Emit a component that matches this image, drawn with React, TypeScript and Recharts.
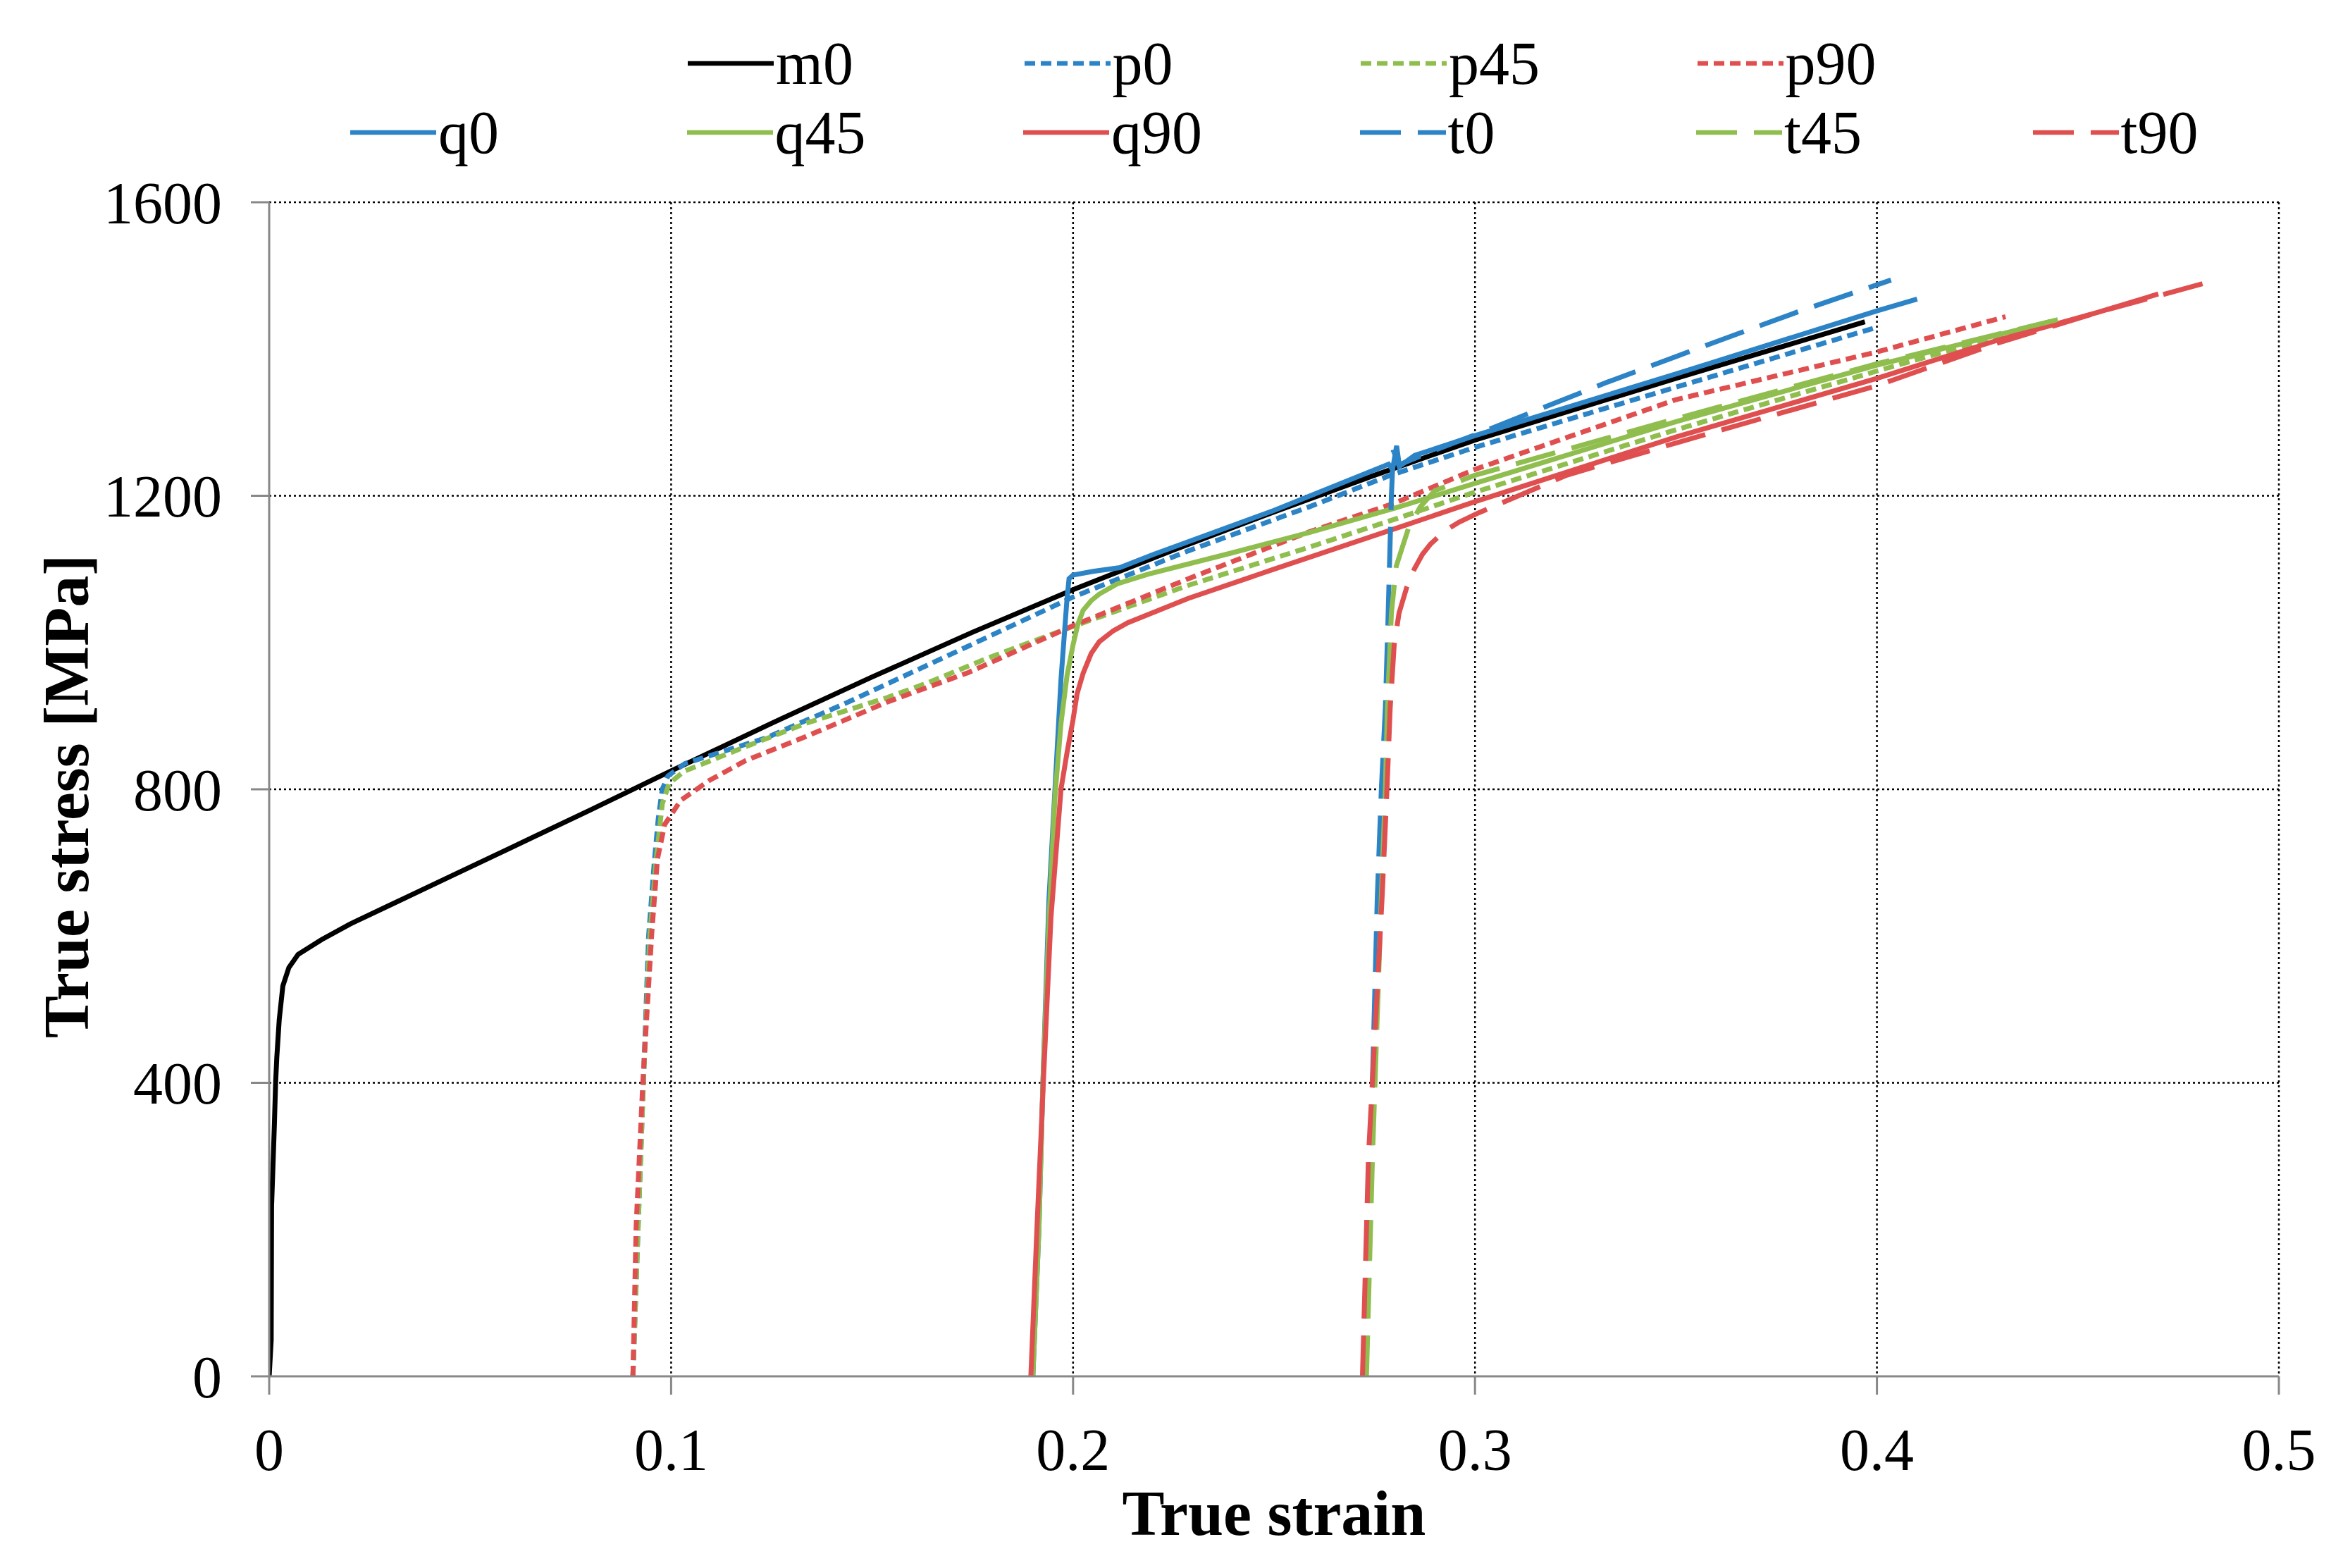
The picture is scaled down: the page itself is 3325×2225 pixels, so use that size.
import React from "react";
import { LineChart, Line, XAxis, YAxis, CartesianGrid, Legend, Label } from "recharts";

// strain / stress pairs
const m0Strain = [0, 0.0005, 0.0006, 0.0013, 0.0016, 0.0019, 0.0025, 0.0034, 0.0049, 0.0072, 0.013, 0.02, 0.03, 0.045, 0.06, 0.08, 0.1, 0.125, 0.15, 0.175, 0.2, 0.225, 0.25, 0.275, 0.3, 0.35, 0.397];
const m0Stress = [0, 49, 232, 344, 400, 435, 486, 532, 557, 575, 595, 616, 642, 681, 720, 772, 825, 890, 953, 1014, 1072, 1126, 1178, 1228, 1276, 1360, 1437];

const p0Strain = [0.0905, 0.0918, 0.0931, 0.0944, 0.0958, 0.0968, 0.0978, 0.0992, 0.1034, 0.1236, 0.1437, 0.1739, 0.2, 0.2287, 0.2588, 0.279, 0.3, 0.35, 0.399];
const p0Stress = [0, 205, 400, 600, 700, 760, 800, 818, 835, 870, 918, 995, 1062, 1125, 1185, 1228, 1266, 1348, 1428];

const p45Strain = [0.0905, 0.0918, 0.0931, 0.0947, 0.0962, 0.0978, 0.0995, 0.1034, 0.1185, 0.1336, 0.1538, 0.1638, 0.1784, 0.2, 0.2287, 0.2588, 0.28, 0.3, 0.35, 0.4, 0.443];
const p45Stress = [0, 205, 400, 600, 700, 780, 808, 825, 858, 890, 925, 945, 978, 1022, 1078, 1130, 1168, 1205, 1290, 1370, 1437];

const p90Strain = [0.0905, 0.0913, 0.093, 0.0952, 0.0966, 0.0984, 0.1024, 0.1095, 0.1185, 0.1336, 0.1538, 0.1739, 0.2, 0.2287, 0.2588, 0.28, 0.3, 0.35, 0.4, 0.432];
const p90Stress = [0, 205, 405, 605, 705, 752, 785, 812, 839, 872, 919, 959, 1023, 1087, 1151, 1190, 1236, 1331, 1396, 1444];

const q0Strain = [0.19, 0.1915, 0.1925, 0.194, 0.1955, 0.197, 0.1985, 0.199, 0.2, 0.205, 0.2116, 0.22, 0.25, 0.2785, 0.2795, 0.2805, 0.2812, 0.285, 0.3, 0.35, 0.4, 0.41];
const q0Stress = [0, 200, 400, 650, 800, 950, 1060, 1087, 1092, 1097, 1102, 1120, 1180, 1243, 1236, 1268, 1240, 1255, 1282, 1366, 1452, 1468];

const q45Strain = [0.19, 0.1915, 0.1925, 0.194, 0.1955, 0.197, 0.1985, 0.2, 0.2012, 0.2025, 0.2045, 0.2065, 0.211, 0.2186, 0.2387, 0.2588, 0.28, 0.3, 0.35, 0.4, 0.443];
const q45Stress = [0, 200, 400, 620, 790, 890, 955, 997, 1025, 1044, 1057, 1066, 1080, 1093, 1121, 1150, 1183, 1217, 1301, 1378, 1437];

const q90Strain = [0.1895, 0.191, 0.1926, 0.1945, 0.197, 0.1985, 0.2, 0.201, 0.2025, 0.2045, 0.2065, 0.21, 0.2136, 0.2286, 0.25, 0.28, 0.3, 0.35, 0.4, 0.43, 0.455, 0.47];
const q90Stress = [0, 200, 400, 625, 800, 850, 895, 930, 958, 985, 1001, 1016, 1027, 1060, 1100, 1155, 1192, 1280, 1360, 1412, 1450, 1475];

const t0Strain = [0.2725, 0.274, 0.2757, 0.2767, 0.2777, 0.2784, 0.2792, 0.2797, 0.281, 0.29, 0.3, 0.333, 0.359, 0.381, 0.4035];
const t0Stress = [0, 300, 654, 800, 911, 1040, 1200, 1262, 1242, 1262, 1283, 1355, 1408, 1452, 1494];

const t45Strain = [0.273, 0.2745, 0.2767, 0.2777, 0.2782, 0.2792, 0.2804, 0.2834, 0.2864, 0.29, 0.3, 0.35, 0.4, 0.445];
const t45Stress = [0, 300, 654, 800, 911, 1040, 1104, 1155, 1185, 1207, 1228, 1305, 1380, 1440];

const t90Strain = [0.272, 0.2735, 0.2769, 0.2781, 0.2789, 0.2799, 0.2811, 0.283, 0.2849, 0.2869, 0.2889, 0.2925, 0.296, 0.301, 0.3228, 0.35, 0.4, 0.43, 0.455, 0.481];
const t90Stress = [0, 300, 654, 800, 911, 997, 1040, 1075, 1100, 1120, 1134, 1152, 1164, 1177, 1228, 1272, 1350, 1408, 1450, 1489];

const xTicks = [0, 0.1, 0.2, 0.3, 0.4, 0.5];
const yTicks = [0, 400, 800, 1200, 1600];

const legendRow1 = ["m0", "p0", "p45", "p90"];
const legendRow2 = ["q0", "q45", "q90", "t0", "t45", "t90"];

const BLUE = "#2C84C6";
const GREEN = "#8FBE4F";
const RED = "#E04F4F";
const DOT = "15 8";
const DASH = "58 24";
const FONT = "'Liberation Serif', 'Times New Roman', serif";

const toPoints = (xs: number[], ys: number[]) => xs.map((x, i) => ({ x, y: ys[i] }));

const series = [
  { name: "m0", data: toPoints(m0Strain, m0Stress), color: "#000000", dash: undefined },
  { name: "p0", data: toPoints(p0Strain, p0Stress), color: BLUE, dash: DOT },
  { name: "p45", data: toPoints(p45Strain, p45Stress), color: GREEN, dash: DOT },
  { name: "p90", data: toPoints(p90Strain, p90Stress), color: RED, dash: DOT },
  { name: "q0", data: toPoints(q0Strain, q0Stress), color: BLUE, dash: undefined },
  { name: "q45", data: toPoints(q45Strain, q45Stress), color: GREEN, dash: undefined },
  { name: "q90", data: toPoints(q90Strain, q90Stress), color: RED, dash: undefined },
  { name: "t0", data: toPoints(t0Strain, t0Stress), color: BLUE, dash: DASH },
  { name: "t45", data: toPoints(t45Strain, t45Stress), color: GREEN, dash: DASH },
  { name: "t90", data: toPoints(t90Strain, t90Stress), color: RED, dash: DASH },
];

const LegendItem = ({ name, left, top }: { name: string; left: number; top: number }) => {
  const s = series.find((d) => d.name === name)!;
  return (
    <div style={{ position: "absolute", left, top: top - 50, height: 100, display: "flex", alignItems: "center" }}>
      <svg width={122} height={12}>
        <line x1={0} y1={6} x2={122} y2={6} stroke={s.color} strokeWidth={6.5} strokeDasharray={s.dash} />
      </svg>
      <span style={{ fontFamily: FONT, fontSize: 86, lineHeight: 1, marginLeft: 3, color: "#000" }}>{name}</span>
    </div>
  );
};

const renderLegend = () => (
  <div style={{ position: "relative", width: 3325, height: 240 }}>
    {legendRow1.map((n, i) => (
      <LegendItem key={n} name={n} left={976 + i * 477.5} top={90} />
    ))}
    {legendRow2.map((n, i) => (
      <LegendItem key={n} name={n} left={497 + i * 477.5} top={188} />
    ))}
  </div>
);

const tickStyle = { fontFamily: FONT, fontSize: 84, fill: "#000" };

const App = () => {
  return (
    <div style={{ position: "absolute", left: 0, top: 0, width: 3325, height: 2225, background: "#fff" }}>
      <LineChart width={3325} height={2225} margin={{ top: 287, right: 91, bottom: 22, left: 0 }}>
        <CartesianGrid
          stroke="#000"
          strokeWidth={2.5}
          strokeDasharray="3 4"
          verticalValues={[0.1, 0.2, 0.3, 0.4, 0.5]}
          horizontalValues={[400, 800, 1200, 1600]}
        />
        <XAxis
          type="number"
          dataKey="x"
          domain={[0, 0.5]}
          ticks={xTicks}
          allowDataOverflow
          height={250}
          tick={tickStyle}
          tickSize={26}
          tickMargin={47}
          axisLine={{ stroke: "#888", strokeWidth: 3 }}
          tickLine={{ stroke: "#888", strokeWidth: 3 }}
        >
          <Label
            value="True strain"
            position="center"
            dy={68}
            style={{ fontFamily: FONT, fontSize: 90, fontWeight: "bold", fill: "#000" }}
          />
        </XAxis>
        <YAxis
          type="number"
          domain={[0, 1600]}
          ticks={yTicks}
          allowDataOverflow
          width={382}
          tick={tickStyle}
          tickSize={26}
          tickMargin={41}
          axisLine={{ stroke: "#888", strokeWidth: 3 }}
          tickLine={{ stroke: "#888", strokeWidth: 3 }}
        >
          <Label
            value="True stress [MPa]"
            position="center"
            angle={-90}
            dx={-98}
            dy={10}
            style={{ fontFamily: FONT, fontSize: 90, fontWeight: "bold", fill: "#000", textAnchor: "middle" }}
          />
        </YAxis>
        <Legend
          layout="horizontal"
          align="center"
          verticalAlign="middle"
          content={renderLegend}
          wrapperStyle={{ top: 0, left: 0, width: 3325, height: 240 }}
        />
        {series.map((s) => (
          <Line
            key={s.name}
            name={s.name}
            data={s.data}
            dataKey="y"
            type="linear"
            stroke={s.color}
            strokeWidth={7}
            strokeDasharray={s.dash}
            dot={false}
            activeDot={false}
            isAnimationActive={false}
          />
        ))}
      </LineChart>
    </div>
  );
};

export default App;
